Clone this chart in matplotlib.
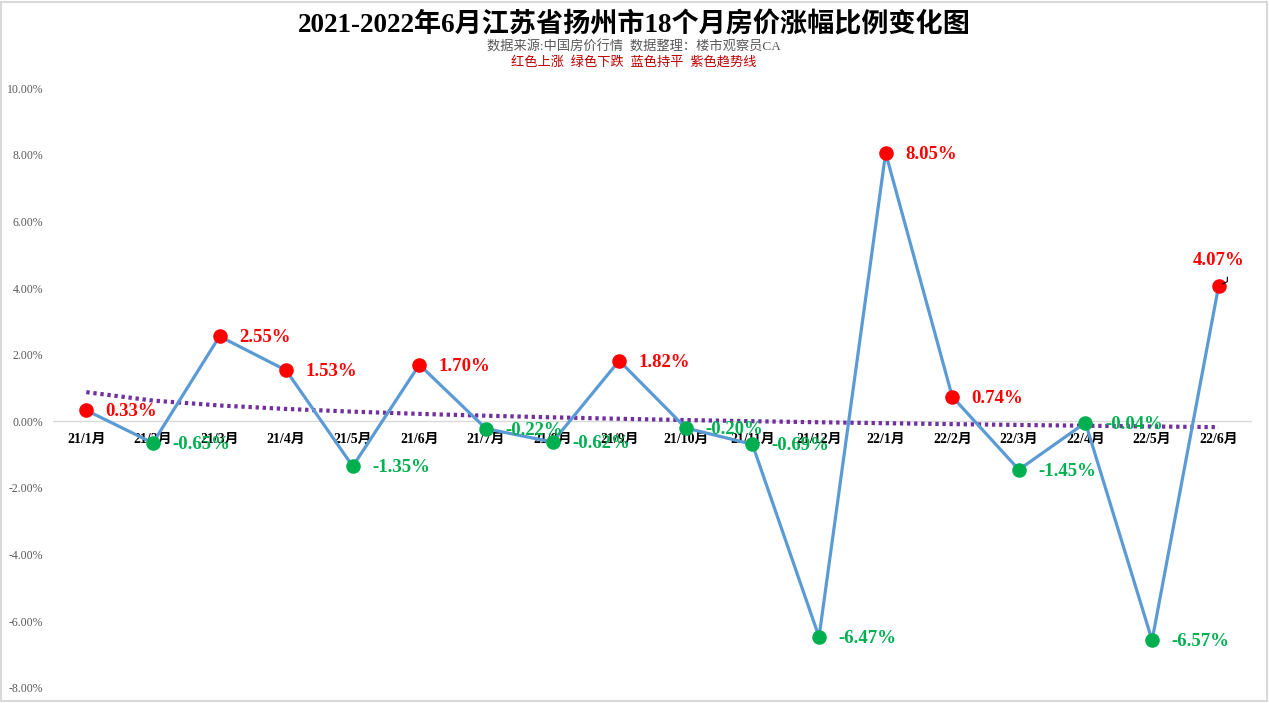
import matplotlib.pyplot as plt
import matplotlib.patches as patches
import numpy as np

plt.rcParams['font.family'] = ['Liberation Serif', 'Noto Sans CJK SC']

months = ['21/1月', '21/2月', '21/3月', '21/4月', '21/5月', '21/6月', '21/7月', '21/8月', '21/9月',
          '21/10月', '21/11月', '21/12月', '22/1月', '22/2月', '22/3月', '22/4月', '22/5月', '22/6月']
change = [0.33, -0.65, 2.55, 1.53, -1.35, 1.70, -0.22, -0.62, 1.82,
          -0.20, -0.69, -6.47, 8.05, 0.74, -1.45, -0.04, -6.57, 4.07]
y_ticks = [-8, -6, -4, -2, 0, 2, 4, 6, 8, 10]

red = '#FF0000'
green = '#00B050'
blue = '#5B9BD5'
purple = '#7030A0'

fig = plt.figure(figsize=(12.69, 7.03), dpi=100)
ax = fig.add_axes([53 / 1269, 1 - 688 / 703, (1252 - 53) / 1269, 600 / 703])

x = np.arange(len(months))
ax.plot(x, change, color=blue, linewidth=2.3, zorder=3)

# logarithmic trend line (like excel)
lx = np.log(x + 1)
b, a = np.polyfit(lx, change, 1)
ax.plot(x, a + b * lx, color=purple, linewidth=3, linestyle=(0, (0.8, 0.9)), zorder=2)

# category labels sit just under the zero line
for i, m in enumerate(months):
    ax.annotate(m, (i, 0), xytext=(0, -8), textcoords='offset points', ha='center', va='top',
                fontsize=10, fontweight='bold', color='black', zorder=1)

for i, v in enumerate(change):
    c = red if v > 0 else green
    ax.scatter(i, v, s=110, color=c, zorder=4, linewidths=0)
    if i == len(change) - 1:
        ax.annotate(f'{v:.2f}%', (i, v), xytext=(0, 12), textcoords='offset points',
                    ha='center', va='bottom', color=c, fontsize=13.5, fontweight='bold')
        ax.plot([i + 0.06, i + 0.13, i + 0.13], [v + 0.05, v + 0.12, v + 0.25], color='black', linewidth=0.8, zorder=5)
    else:
        ax.annotate(f'{v:.2f}%', (i, v), xytext=(14, -1), textcoords='offset points',
                    ha='left', va='center', color=c, fontsize=13.5, fontweight='bold', zorder=5)

ax.set_xlim(-0.5, len(months) - 0.5)
ax.set_ylim(-8, 10)
ax.set_xticks([])
ax.axhline(0, color='#D9D9D9', linewidth=1, zorder=1)
ax.set_yticks(y_ticks)
ax.set_yticklabels([f'{t:.2f}%' for t in y_ticks], color='#595959', fontsize=8.5)
ax.tick_params(axis='y', length=0, pad=7)
for s in ['top', 'right', 'left', 'bottom']:
    ax.spines[s].set_visible(False)

fig.text(634 / 1269, 1 - 25 / 703, '2021-2022年6月江苏省扬州市18个月房价涨幅比例变化图',
         ha='center', va='center', fontsize=19.5, fontweight='bold')
fig.text(634 / 1269, 1 - 47 / 703, '数据来源:中国房价行情  数据整理：楼市观察员CA',
         ha='center', va='center', fontsize=9.5, color='#595959')
fig.text(634 / 1269, 1 - 62 / 703, '红色上涨  绿色下跌  蓝色持平  紫色趋势线',
         ha='center', va='center', fontsize=9.5, color='#C00000')

fig.patches.append(patches.Rectangle((1 / 1269, 2 / 703), 1266 / 1269, 699 / 703, transform=fig.transFigure,
                                     fill=False, edgecolor='#D9D9D9', linewidth=1.5))

plt.savefig('out.png', dpi=100)
plt.close()
